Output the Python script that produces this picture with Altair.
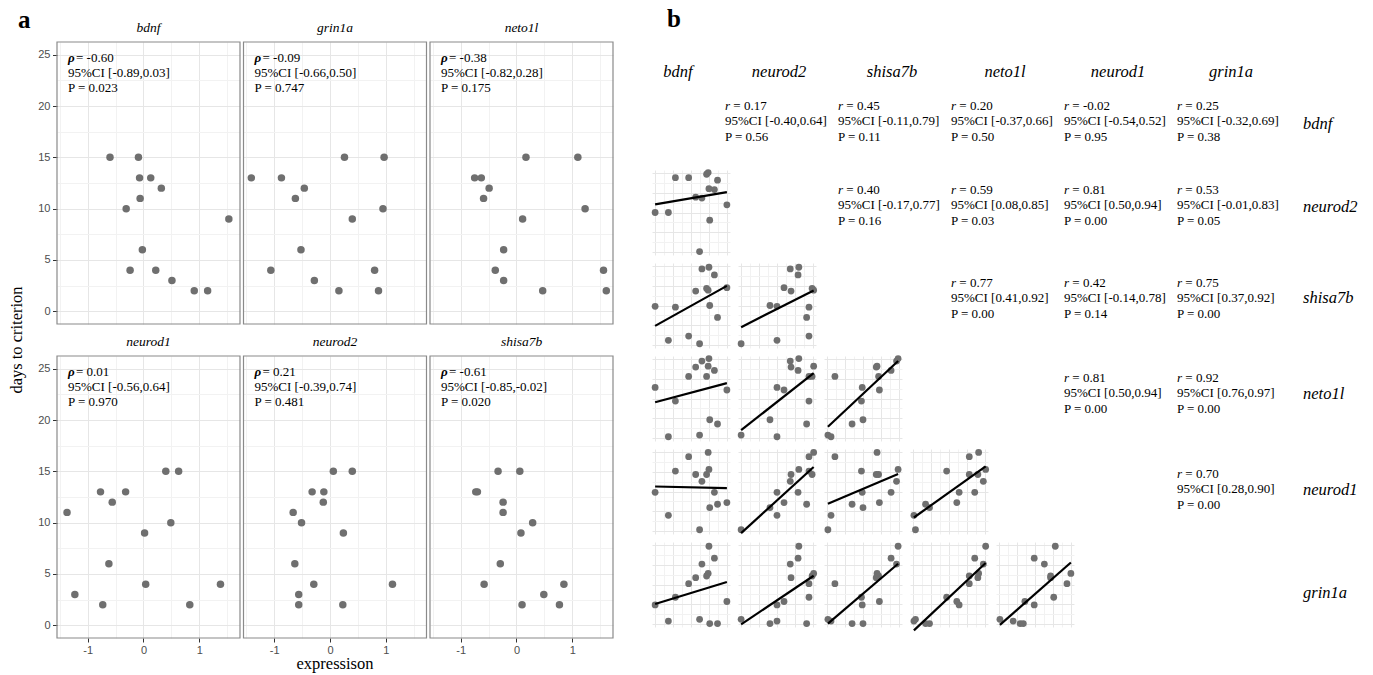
import altair as alt
import pandas as pd

# ---------------- panel a : expression vs days to criterion ----------------
GENES_A = ["bdnf", "grin1a", "neto1l", "neurod1", "neurod2", "shisa7b"]
EXPR_BDNF = [-0.60, -0.09, -0.07, 0.13, 0.32, -0.06, -0.31, 1.53, -0.02, -0.24, 0.22, 0.51, 0.91, 1.15]
DAYS_BDNF = [15, 15, 13, 13, 12, 11, 10, 9, 6, 4, 4, 3, 2, 2]
EXPR_GRIN1A = [-1.41, -0.87, -0.46, -0.62, 0.26, 0.97, 0.95, 0.40, -0.52, -1.06, 0.80, -0.28, 0.16, 0.87]
DAYS_GRIN1A = [13, 13, 12, 11, 15, 15, 10, 9, 6, 4, 4, 3, 2, 2]
EXPR_NETO1L = [-0.75, -0.63, -0.49, -0.59, 0.17, 1.10, 1.23, 0.11, -0.23, -0.38, 1.56, -0.23, 0.47, 1.61]
DAYS_NETO1L = [13, 13, 12, 11, 15, 15, 10, 9, 6, 4, 4, 3, 2, 2]
EXPR_NEUROD1 = [-1.37, -1.23, -0.77, -0.73, -0.56, -0.62, -0.32, 0.02, 0.04, 0.40, 0.63, 0.49, 0.83, 1.38]
DAYS_NEUROD1 = [11, 3, 13, 2, 12, 6, 13, 9, 4, 15, 15, 10, 2, 4]
EXPR_NEUROD2 = [-0.66, -0.51, -0.32, -0.11, -0.12, 0.06, 0.40, 0.24, -0.63, -0.29, -0.56, -0.56, 0.23, 1.12]
DAYS_NEUROD2 = [11, 10, 13, 13, 12, 15, 15, 9, 6, 4, 3, 2, 2, 4]
EXPR_SHISA7B = [-0.73, -0.70, -0.33, 0.06, -0.24, -0.24, 0.29, 0.08, -0.29, -0.58, 0.85, 0.49, 0.77, 0.10]
DAYS_SHISA7B = [13, 13, 15, 15, 12, 11, 10, 9, 6, 4, 4, 3, 2, 2]
RHO_A = ["-0.60", "-0.09", "-0.38", "0.01", "0.21", "-0.61"]
CI_A = ["[-0.89,0.03]", "[-0.66,0.50]", "[-0.82,0.28]", "[-0.56,0.64]", "[-0.39,0.74]", "[-0.85,-0.02]"]
P_A = ["0.023", "0.747", "0.175", "0.970", "0.481", "0.020"]

# ---------------- panel b : pairwise expression (cell units) ----------------
GENES_B = ["bdnf", "neurod2", "shisa7b", "neto1l", "neurod1", "grin1a"]
B_BDNF = [0.04, 0.21, 0.30, 0.47, 0.56, 0.61, 0.64, 0.70, 0.72, 0.73, 0.74, 0.80, 0.84, 0.96]
B_NEUROD2 = [0.50, 0.50, 0.91, 0.91, 0.68, 0.04, 0.67, 0.95, 0.97, 0.78, 0.41, 0.77, 0.88, 0.59]
B_SHISA7B = [0.49, 0.09, 0.48, 0.14, 0.67, 0.05, 0.93, 0.70, 0.68, 0.95, 0.50, 0.86, 0.36, 0.71]
B_NETO1L = [0.63, 0.05, 0.47, 0.76, 0.87, 0.07, 0.94, 0.76, 0.88, 0.97, 0.25, 0.83, 0.20, 0.60]
B_NEUROD1 = [0.49, 0.22, 0.74, 0.91, 0.70, 0.05, 0.62, 0.70, 0.96, 0.76, 0.31, 0.49, 0.35, 0.37]
B_GRIN1A = [0.26, 0.07, 0.35, 0.51, 0.58, 0.09, 0.74, 0.60, 0.63, 0.95, 0.04, 0.81, 0.04, 0.30]
PAIR_ROW = [0, 0, 0, 0, 0, 1, 1, 1, 1, 2, 2, 2, 3, 3, 4]
PAIR_COL = [1, 2, 3, 4, 5, 2, 3, 4, 5, 3, 4, 5, 4, 5, 5]
R_B = ["0.17", "0.45", "0.20", "-0.02", "0.25", "0.40", "0.59", "0.81", "0.53",
       "0.77", "0.42", "0.75", "0.81", "0.92", "0.70"]
CI_B = ["[-0.40,0.64]", "[-0.11,0.79]", "[-0.37,0.66]", "[-0.54,0.52]", "[-0.32,0.69]",
        "[-0.17,0.77]", "[0.08,0.85]", "[0.50,0.94]", "[-0.01,0.83]",
        "[0.41,0.92]", "[-0.14,0.78]", "[0.37,0.92]", "[0.50,0.94]", "[0.76,0.97]", "[0.28,0.90]"]
P_B = ["0.56", "0.11", "0.50", "0.95", "0.38", "0.16", "0.03", "0.00", "0.05",
       "0.00", "0.14", "0.00", "0.00", "0.00", "0.00"]

# ---------------- layout / style ----------------
W, H = 1373, 675
SERIF = "Liberation Serif"
SANS = "Liberation Sans"
PT_COL = "#6f6f6f"
GRID_MAJ = "#e6e6e6"
GRID_MIN = "#f2f2f2"
FRAME_COL = "#8a8a8a"

A_LEFT = [57.0, 243.5, 430.0]
A_W = 183.0
A_TOP = [42.0, 356.0]
A_H = 282.0
X_DOM = [-1.55, 1.73]
Y_DOM = [-1.25, 26.25]
X_GRID = [-1.5, -1.0, -0.5, 0.0, 0.5, 1.0, 1.5]
Y_GRID = [0, 2.5, 5, 7.5, 10, 12.5, 15, 17.5, 20, 22.5, 25]

B_LEFT0, B_PITCH_X, B_W = 652.0, 86.0, 78.0
B_TOP0, B_PITCH_Y, B_H = 170.0, 93.0, 85.0
B_GRID = [0.04, 0.155, 0.27, 0.385, 0.5, 0.615, 0.73, 0.845, 0.96]
B_TEXT_X = [725.0, 1177.0]
B_TEXT_Y = [121, 205, 298, 393, 489]
B_HEAD_X = [678, 779, 892, 1005, 1118, 1231]
B_HEAD_Y = 72
B_LAB_X = 1303
B_LAB_Y = [124, 207, 298, 394, 490, 593]

# ---------------- tables ----------------
EXPR_A = [EXPR_BDNF, EXPR_GRIN1A, EXPR_NETO1L, EXPR_NEUROD1, EXPR_NEUROD2, EXPR_SHISA7B]
DAYS_A = [DAYS_BDNF, DAYS_GRIN1A, DAYS_NETO1L, DAYS_NEUROD1, DAYS_NEUROD2, DAYS_SHISA7B]
rows = []
for g, xs, ys in zip(GENES_A, EXPR_A, DAYS_A):
    for xv, yv in zip(xs, ys):
        rows.append({"gene": g, "expr": xv, "days": yv})
df_a = pd.DataFrame(rows)
ann_a = pd.DataFrame({
    "gene": GENES_A,
    "row": [k // 3 for k in range(6)],
    "col": [k % 3 for k in range(6)],
    "rho": ["= " + r for r in RHO_A],
    "ci": ["95%CI " + c for c in CI_A],
    "p": ["P = " + p for p in P_A],
})

B_VEC = [B_BDNF, B_NEUROD2, B_SHISA7B, B_NETO1L, B_NEUROD1, B_GRIN1A]
rows = []
for ri in range(1, 6):
    for ci in range(ri):
        for s in range(len(B_BDNF)):
            rows.append({"cell": f"{ri}-{ci}", "xv": B_VEC[ci][s], "yv": B_VEC[ri][s]})
df_b = pd.DataFrame(rows)
tab_b = pd.DataFrame({
    "ri": PAIR_ROW, "ci": PAIR_COL,
    "rt": ["= " + r for r in R_B],
    "ct": ["95%CI " + c for c in CI_B],
    "pt": ["P = " + p for p in P_B],
})
head_b = pd.DataFrame({"idx": list(range(6)), "gene": GENES_B})
one = pd.DataFrame({"k": [0]})


def grid_axis(orient, values, test):
    return alt.Axis(orient=orient, values=values, grid=True, labels=False, ticks=False,
                    domain=False, title=None, gridWidth=1,
                    gridColor={"condition": {"test": test, "value": GRID_MIN}, "value": GRID_MAJ})


layers = []

# ---- panel a cells ----
for k, g in enumerate(GENES_A):
    i, j = divmod(k, 3)
    xsc = alt.Scale(domain=X_DOM, range=[A_LEFT[j], A_LEFT[j] + A_W], nice=False, zero=False)
    ysc = alt.Scale(domain=Y_DOM, range=[A_TOP[i] + A_H, A_TOP[i]], nice=False, zero=False)
    layers.append(
        alt.Chart(df_a).transform_filter(alt.datum.gene == g)
        .mark_circle(size=56, color=PT_COL, opacity=1)
        .encode(
            x=alt.X("expr:Q", scale=xsc, axis=grid_axis("top", X_GRID, "datum.value % 1 != 0")),
            y=alt.Y("days:Q", scale=ysc, axis=grid_axis("left", Y_GRID, "datum.value % 5 != 0")),
        )
    )
    x_axis = alt.Axis(orient="bottom", offset=-(H - (A_TOP[1] + A_H)), values=[-1, 0, 1],
                      grid=False, domain=False, tickSize=4, tickColor="#333333", tickWidth=1,
                      labelColor="#4d4d4d", labelFont=SANS, labelFontSize=11, labelPadding=2,
                      labelExpr="'' + datum.value", title=None) if i == 1 else None
    y_axis = alt.Axis(orient="left", offset=-A_LEFT[0], values=[0, 5, 10, 15, 20, 25],
                      grid=False, domain=False, tickSize=4.5, tickColor="#333333", tickWidth=1,
                      labelColor="#4d4d4d", labelFont=SANS, labelFontSize=11, labelPadding=2.5,
                      title=None) if j == 0 else None
    layers.append(
        alt.Chart(one).mark_rect(fillOpacity=0, stroke=FRAME_COL, strokeWidth=1.2)
        .encode(
            x=alt.X(datum=X_DOM[0], scale=xsc, axis=x_axis), x2=alt.X2(datum=X_DOM[1]),
            y=alt.Y(datum=Y_DOM[0], scale=ysc, axis=y_axis), y2=alt.Y2(datum=Y_DOM[1]),
        )
    )

# ---- panel a annotations ----
ax_sc = alt.Scale(domain=[0, 2], range=[A_LEFT[0] + 11, A_LEFT[2] + 11], nice=False, zero=False)
ay_sc = alt.Scale(domain=[0, 1], range=[A_TOP[0] + 16, A_TOP[1] + 16], nice=False, zero=False)
enc_a = dict(x=alt.X("col:Q", scale=ax_sc, axis=None), y=alt.Y("row:Q", scale=ay_sc, axis=None))
txt = dict(font=SERIF, fontSize=13, align="left", baseline="middle", color="black")
layers += [
    alt.Chart(ann_a).mark_text(text="ρ", fontStyle="italic", fontWeight="bold", **txt).encode(**enc_a),
    alt.Chart(ann_a).mark_text(dx=8, **txt).encode(text="rho:N", **enc_a),
    alt.Chart(ann_a).mark_text(dy=15, **txt).encode(text="ci:N", **enc_a),
    alt.Chart(ann_a).mark_text(dy=30, **txt).encode(text="p:N", **enc_a),
]
gx_sc = alt.Scale(domain=[0, 2], range=[A_LEFT[0] + A_W / 2, A_LEFT[2] + A_W / 2], nice=False, zero=False)
gy_sc = alt.Scale(domain=[0, 1], range=[28, 342], nice=False, zero=False)
layers.append(
    alt.Chart(ann_a).mark_text(font=SERIF, fontSize=13.5, fontStyle="italic", align="center",
                               baseline="middle", color="black")
    .encode(x=alt.X("col:Q", scale=gx_sc, axis=None), y=alt.Y("row:Q", scale=gy_sc, axis=None),
            text="gene:N")
)
layers += [
    alt.Chart(one).mark_text(text="days to criterion", angle=270, font=SERIF, fontSize=16.5,
                             align="center", baseline="middle", color="black")
    .encode(x=alt.value(17), y=alt.value((A_TOP[0] + A_TOP[1] + A_H) / 2)),
    alt.Chart(one).mark_text(text="expressison", font=SERIF, fontSize=16.5, align="center",
                             baseline="middle", color="black")
    .encode(x=alt.value((A_LEFT[0] + A_LEFT[2] + A_W) / 2), y=alt.value(664)),
    alt.Chart(one).mark_text(text="a", font=SERIF, fontSize=25, fontWeight="bold", align="left",
                             baseline="alphabetic", color="black")
    .encode(x=alt.value(18), y=alt.value(28)),
    alt.Chart(one).mark_text(text="b", font=SERIF, fontSize=25, fontWeight="bold", align="left",
                             baseline="alphabetic", color="black")
    .encode(x=alt.value(667), y=alt.value(27)),
]

# ---- panel b lower-triangle scatter cells ----
for ri in range(1, 6):
    for ci in range(ri):
        left = B_LEFT0 + ci * B_PITCH_X
        top = B_TOP0 + (ri - 1) * B_PITCH_Y
        xsc = alt.Scale(domain=[0, 1], range=[left, left + B_W], nice=False, zero=False)
        ysc = alt.Scale(domain=[0, 1], range=[top + B_H, top], nice=False, zero=False)
        base = alt.Chart(df_b).transform_filter(alt.datum.cell == f"{ri}-{ci}")
        test = "round((datum.value - 0.04) / 0.115) % 2 == 1"
        layers.append(
            base.mark_circle(size=46, color=PT_COL, opacity=1).encode(
                x=alt.X("xv:Q", scale=xsc, axis=grid_axis("top", B_GRID, test)),
                y=alt.Y("yv:Q", scale=ysc, axis=grid_axis("left", B_GRID, test)),
            )
        )
        layers.append(
            base.transform_regression("xv", "yv").mark_line(color="black", strokeWidth=2.2).encode(
                x=alt.X("xv:Q", scale=xsc, axis=None),
                y=alt.Y("yv:Q", scale=ysc, axis=None),
            )
        )

# ---- panel b upper-triangle statistics ----
tx_sc = alt.Scale(domain=[1, 5], range=B_TEXT_X, nice=False, zero=False)
ty_sc = alt.Scale(domain=[0, 1, 2, 3, 4], range=B_TEXT_Y, nice=False, zero=False)
enc_b = dict(x=alt.X("ci:Q", scale=tx_sc, axis=None), y=alt.Y("ri:Q", scale=ty_sc, axis=None))
layers += [
    alt.Chart(tab_b).mark_text(text="r", fontStyle="italic", dy=-15.5, **txt).encode(**enc_b),
    alt.Chart(tab_b).mark_text(dx=8.3, dy=-15.5, **txt).encode(text="rt:N", **enc_b),
    alt.Chart(tab_b).mark_text(**txt).encode(text="ct:N", **enc_b),
    alt.Chart(tab_b).mark_text(dy=15.5, **txt).encode(text="pt:N", **enc_b),
]
hx_sc = alt.Scale(domain=list(range(6)), range=B_HEAD_X, nice=False, zero=False)
ly_sc = alt.Scale(domain=list(range(6)), range=B_LAB_Y, nice=False, zero=False)
layers += [
    alt.Chart(head_b).mark_text(font=SERIF, fontSize=16.5, fontStyle="italic", align="center",
                                baseline="middle", color="black")
    .encode(x=alt.X("idx:Q", scale=hx_sc, axis=None), y=alt.value(B_HEAD_Y), text="gene:N"),
    alt.Chart(head_b).mark_text(font=SERIF, fontSize=16.5, fontStyle="italic", align="left",
                                baseline="middle", color="black")
    .encode(x=alt.value(B_LAB_X), y=alt.Y("idx:Q", scale=ly_sc, axis=None), text="gene:N"),
]

chart = (
    alt.layer(*layers)
    .resolve_scale(x="independent", y="independent")
    .resolve_axis(x="independent", y="independent")
    .properties(width=W, height=H, autosize=alt.AutoSizeParams(type="none"), padding=0,
                background="white")
    .configure_view(strokeWidth=0)
)

chart.save("out.html", embed_options={"renderer": "svg", "actions": False})
